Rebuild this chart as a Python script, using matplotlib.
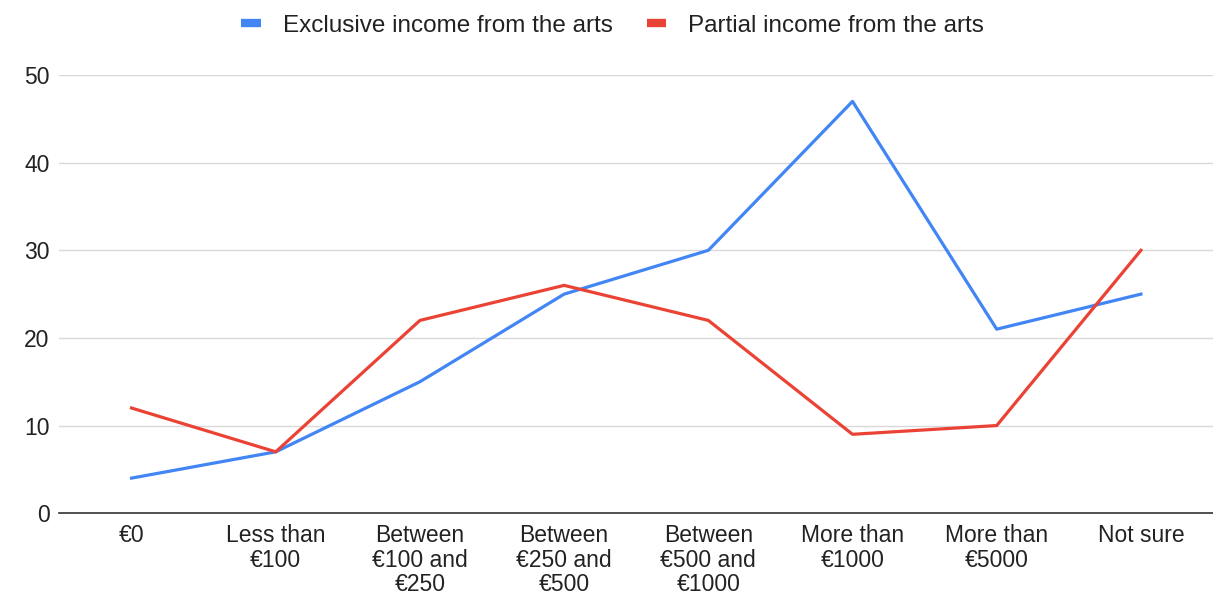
import matplotlib.pyplot as plt
from matplotlib.lines import Line2D

plt.rcParams['font.family'] = ['Liberation Sans', 'DejaVu Sans']

categories = ['€0', 'Less than\n€100', 'Between\n€100 and\n€250', 'Between\n€250 and\n€500',
              'Between\n€500 and\n€1000', 'More than\n€1000', 'More than\n€5000', 'Not sure']
exclusive = [4, 7, 15, 25, 30, 47, 21, 25]
partial = [12, 7, 22, 26, 22, 9, 10, 30]
series_names = ['Exclusive income from the arts', 'Partial income from the arts']

blue = '#4285F4'
red = '#EA4335'

fig = plt.figure(figsize=(12.13, 5.96), dpi=100)
ax = fig.add_axes([0.049, 0.139, 0.951, 0.735])

x = range(len(categories))
ax.plot(x, exclusive, color=blue, linewidth=2.3)
ax.plot(x, partial, color=red, linewidth=2.3)

ax.set_xlim(-0.5, len(categories) - 0.5)
ax.set_ylim(0, 50)
ax.set_yticks([0, 10, 20, 30, 40, 50])
ax.set_xticks(list(x))
ax.set_xticklabels(categories, fontsize=16.5, color='#222222', linespacing=1.08, va='top')
ax.tick_params(axis='y', labelsize=16.5, labelcolor='#222222', length=0, pad=7)
ax.tick_params(axis='x', length=0, pad=8)

ax.grid(axis='y', color='#d9d9d9', linewidth=1)
ax.set_axisbelow(True)
for s in ['top', 'right', 'left']:
    ax.spines[s].set_visible(False)
ax.spines['bottom'].set_color('#333333')
ax.spines['bottom'].set_linewidth(1.2)

handles = [Line2D([0], [0], color=blue, linewidth=6, solid_capstyle='butt'),
           Line2D([0], [0], color=red, linewidth=6, solid_capstyle='butt')]
fig.legend(handles, series_names, loc='center', bbox_to_anchor=(0.505, 0.957), ncol=2,
           frameon=False, fontsize=17.5, handlelength=0.8, handletextpad=0.9, columnspacing=1.4,
           labelcolor='#222222')

fig.savefig('out.png', dpi=100)
